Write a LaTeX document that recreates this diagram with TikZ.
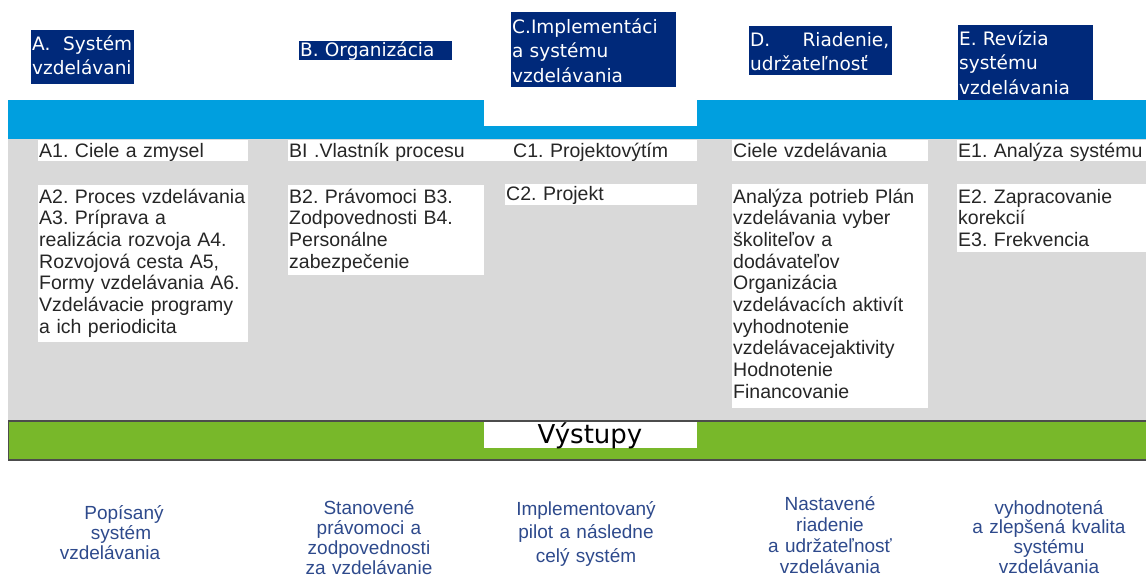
\documentclass[tikz,border=0pt]{standalone}
\usepackage{fontspec}
\newfontfamily\libfont{Liberation Sans}
\newfontfamily\dejfont{DejaVu Sans}
\frenchspacing
\definecolor{navy}{HTML}{00297A}
\definecolor{barblue}{HTML}{009FDF}
\definecolor{panelgray}{HTML}{D9D9D9}
\definecolor{bargreen}{HTML}{78B82A}
\definecolor{boxtext}{HTML}{262626}
\definecolor{outcolor}{HTML}{2E4A8C}
\tikzset{
  hdrbox/.style={fill=navy},
  itembox/.style={fill=white},
  hdrtext/.style={anchor=base west, inner sep=0pt, text=white, align=left,
    font=\dejfont\frenchspacing\fontsize{18.5}{24.5}\selectfont},
  itemtext/.style={anchor=base west, inner sep=0pt, text=boxtext, align=left,
    font=\libfont\frenchspacing\fontsize{19.5}{21.7}\selectfont, text width=#1},
  itemtext/.default=200pt,
  outtext/.style={anchor=base, inner sep=0pt, text=outcolor, align=center, text width=200pt},
}
\begin{document}
\begin{tikzpicture}[x=1pt,y=-1pt]
\useasboundingbox (0,0) rectangle (1146,576);
% panels and bars
\fill[panelgray] (8,139) rectangle (1146,421);
\fill[barblue] (8,100) rectangle (1146,139);
\fill[white] (484,100) rectangle (697,126);
\filldraw[fill=bargreen, draw=black!70, line width=1.2pt] (8.6,421) rectangle (1150,460);
\fill[white] (484,422) rectangle (697,448);
\node[anchor=base, inner sep=0pt, font=\dejfont\fontsize{26}{30}\selectfont, text=black] (vystupy) at (590,443) {Výstupy};

% headers
\fill[hdrbox] (31,30) rectangle (134,84);
\fill[hdrbox] (299,41) rectangle (452,60);
\fill[hdrbox] (511,12) rectangle (676,87);
\fill[hdrbox] (749,26) rectangle (892,75);
\fill[hdrbox] (958,25) rectangle (1093,100);
\node[hdrtext, text width=100pt] (hA) at (32,50) {A.\hfill Systém\\vzdelávani};
\node[hdrtext, text width=150pt] (hB) at (300,56) {B. Organizácia};
\node[hdrtext, text width=160pt] (hC) at (512,33) {C.Implementáci\\a systému\\vzdelávania};
\node[hdrtext, text width=139pt] (hD) at (750,46) {D.\hfill Riadenie,\\udržateľnosť};
\node[hdrtext, text width=130pt] (hE) at (959,45) {E. Revízia\\systému\\vzdelávania};

% white item boxes
\fill[itembox] (38,140) rectangle (248,161);
\fill[itembox] (288,140) rectangle (484,161);
\fill[itembox] (484,140) rectangle (697,161);
\fill[itembox] (732,140) rectangle (928,161);
\fill[itembox] (957,140) rectangle (1146,161);
\fill[itembox] (38,185) rectangle (248,342);
\fill[itembox] (288,185) rectangle (484,275);
\fill[itembox] (505,184) rectangle (697,205);
\fill[itembox] (732,184) rectangle (928,408);
\fill[itembox] (957,184) rectangle (1146,252);

\node[itemtext] (a1) at (39,157) {A1. Ciele a zmysel};
\node[itemtext] (b1) at (289,157) {BI .Vlastník procesu};
\node[itemtext] (c1) at (513,157) {C1. Projektovýtím};
\node[itemtext] (d1) at (733,157) {Ciele vzdelávania};
\node[itemtext] (e1) at (958,157) {E1. Analýza systému};
\node[itemtext=215pt] (a2) at (39,203) {A2. Proces vzdelávania\\A3. Príprava a\\realizácia rozvoja A4.\\Rozvojová cesta A5,\\Formy vzdelávania A6.\\Vzdelávacie programy\\a ich periodicita};
\node[itemtext] (b2) at (289,203) {B2. Právomoci B3.\\Zodpovednosti B4.\\Personálne\\zabezpečenie};
\node[itemtext] (c2) at (506,200) {C2. Projekt};
\node[itemtext] (d2) at (733,203) {Analýza potrieb Plán\\vzdelávania vyber\\školiteľov a\\dodávateľov\\Organizácia\\vzdelávacích aktivít\\vyhodnotenie\\vzdelávacejaktivity\\Hodnotenie\\Financovanie};
\node[itemtext] (e2) at (958,203) {E2. Zapracovanie\\korekcií\\E3. Frekvencia};

% outputs
\node[outtext, font=\libfont\fontsize{19}{20}\selectfont] (oA) at (110,519) {\hspace*{28pt}Popísaný\\\hspace*{22pt}systém\\vzdelávania};
\node[outtext, font=\libfont\fontsize{19}{20}\selectfont] (oB) at (369,514) {Stanovené\\právomoci a\\zodpovednosti\\za vzdelávanie};
\node[outtext, font=\libfont\fontsize{19}{23.5}\selectfont] (oC) at (586,515) {Implementovaný\\pilot a následne\\celý systém};
\node[outtext, font=\libfont\fontsize{19}{21}\selectfont] (oD) at (830,510) {Nastavené\\riadenie\\a udržateľnosť\\vzdelávania};
\node[outtext, font=\libfont\fontsize{19}{19.7}\selectfont] (oE) at (1049,514) {vyhodnotená\\a zlepšená kvalita\\systému\\vzdelávania};
\end{tikzpicture}
\end{document}
